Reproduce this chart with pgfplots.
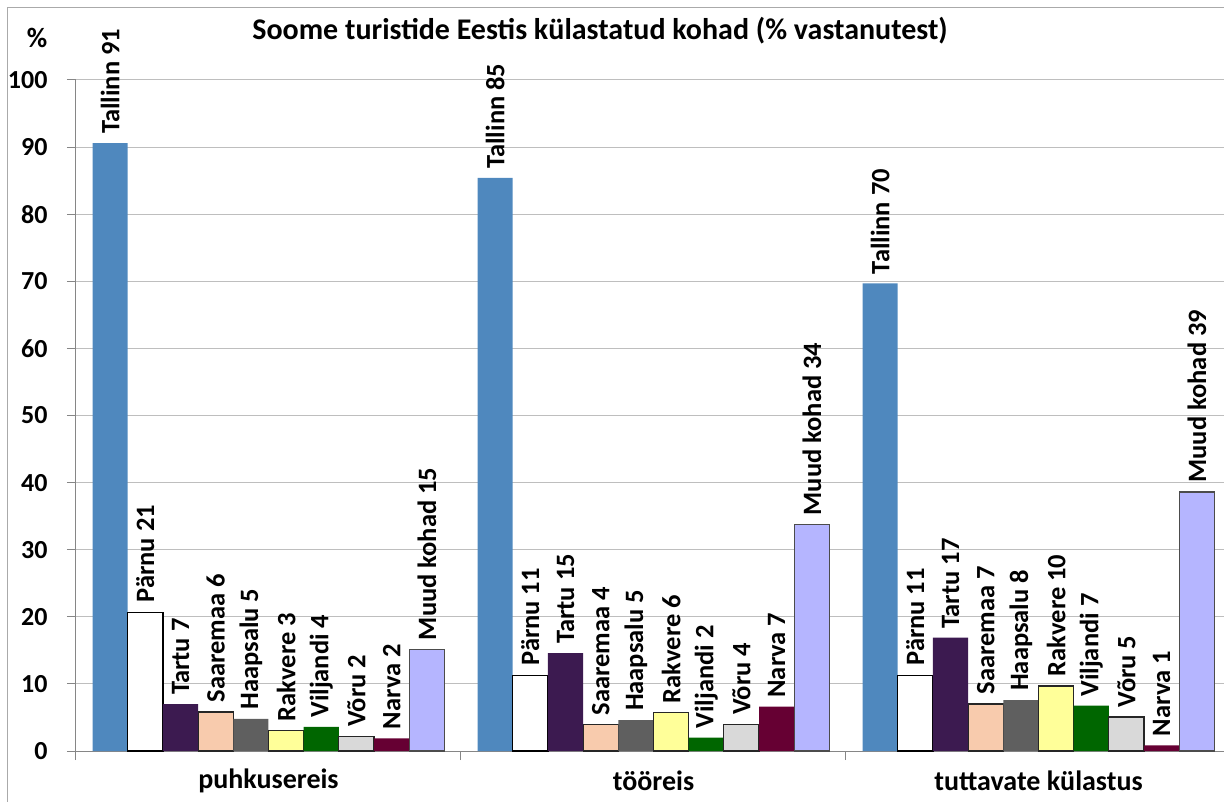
\documentclass[border=0pt]{standalone}
\usepackage{fontspec}
\setmainfont{Carlito}
\usepackage{pgfplots}
\usepackage{pgfplotstable}
\pgfplotsset{compat=1.18}
\definecolor{cTallinn}{RGB}{79,136,190}
\definecolor{cTartu}{RGB}{60,26,80}
\definecolor{cSaaremaa}{RGB}{248,203,173}
\definecolor{cHaapsalu}{RGB}{95,95,95}
\definecolor{cRakvere}{RGB}{255,255,153}
\definecolor{cViljandi}{RGB}{0,102,0}
\definecolor{cVoru}{RGB}{217,217,217}
\definecolor{cNarva}{RGB}{102,0,51}
\definecolor{cMuud}{RGB}{181,181,255}
\definecolor{gridc}{RGB}{190,190,190}
\definecolor{axc}{RGB}{134,134,134}
\pgfplotstableread{
x Tallinn Parnu Tartu Saaremaa Haapsalu Rakvere Viljandi Voru Narva Muud
0 90.6 20.7 7.0 5.8 4.8 3.0 3.6 2.2 1.9 15.1
1 85.4 11.3 14.6 3.9 4.6 5.7 2.0 4.0 6.6 33.7
2 69.7 11.3 16.9 7.0 7.6 9.7 6.75 5.07 0.85 38.6
}\data
\begin{document}
\begin{tikzpicture}[x=1pt,y=1pt]
\useasboundingbox (0,0) rectangle (1224,801);
\draw[axc!70, line width=1pt] (7,-10) rectangle (1240,793);
\node[font=\bfseries\fontsize{30}{30}\selectfont] at (600,770) {Soome turistide Eestis külastatud kohad (\% vastanutest)};
\node[font=\bfseries\fontsize{28}{28}\selectfont] at (37,763) {\%};
\begin{axis}[
  at={(76pt,50pt)}, anchor=south west,
  scale only axis, width=1155pt, height=671pt,
  xmin=-0.5, xmax=2.5, ymin=0, ymax=100,
  ybar=0pt, bar width=0.0914,
  /pgf/number format/assume math mode=true,
  ytick={0,10,...,100},
  yticklabel={\bfseries\fontsize{26}{26}\selectfont\pgfmathprintnumber{\tick}},
  xtick={-0.5,0.5,1.5,2.5}, xticklabels={,,,},
  ymajorgrids, major grid style={gridc, line width=1pt},
  axis line style={axc, line width=1pt},
  axis x line*=bottom, axis y line*=left,
  tick align=outside, major tick length=9pt,
  tick style={axc, line width=1pt},
  yticklabel style={anchor=east, xshift=-16pt},
  clip=false,
  point meta=y,
  every node near coord/.append style={rotate=90, anchor=west, black,
     font=\bfseries\fontsize{26.5}{26.5}\selectfont, inner xsep=9pt, inner ysep=0pt},
  lab/.style={nodes near coords={#1 \pgfmathprintnumber[fixed,precision=0]{\pgfplotspointmeta}}},
]
\addplot[fill=cTallinn, draw=none, lab=Tallinn] table[x=x,y=Tallinn]{\data};
\addplot[fill=white, draw=black, line width=1.2pt, lab=Pärnu] table[x=x,y=Parnu]{\data};
\addplot[fill=cTartu, draw=none, lab=Tartu] table[x=x,y=Tartu]{\data};
\addplot[fill=cSaaremaa, draw=black!85, line width=1.2pt, lab=Saaremaa] table[x=x,y=Saaremaa]{\data};
\addplot[fill=cHaapsalu, draw=none, lab=Haapsalu] table[x=x,y=Haapsalu]{\data};
\addplot[fill=cRakvere, draw=black!85, line width=1.2pt, lab=Rakvere] table[x=x,y=Rakvere]{\data};
\addplot[fill=cViljandi, draw=none, lab=Viljandi] table[x=x,y=Viljandi]{\data};
\addplot[fill=cVoru, draw=black!85, line width=1.2pt, lab=Võru] table[x=x,y=Voru]{\data};
\addplot[fill=cNarva, draw=none, lab=Narva] table[x=x,y=Narva]{\data};
\addplot[fill=cMuud, draw=black!70, line width=1.2pt, lab={Muud kohad}] table[x=x,y=Muud]{\data};
\node[font=\bfseries\fontsize{28}{28}\selectfont] at (axis cs:0,0) [yshift=-30pt] {puhkusereis};
\node[font=\bfseries\fontsize{28}{28}\selectfont] at (axis cs:1,0) [yshift=-30pt] {tööreis};
\node[font=\bfseries\fontsize{28}{28}\selectfont] at (axis cs:2,0) [yshift=-30pt] {tuttavate külastus};
\end{axis}
\end{tikzpicture}
\end{document}
